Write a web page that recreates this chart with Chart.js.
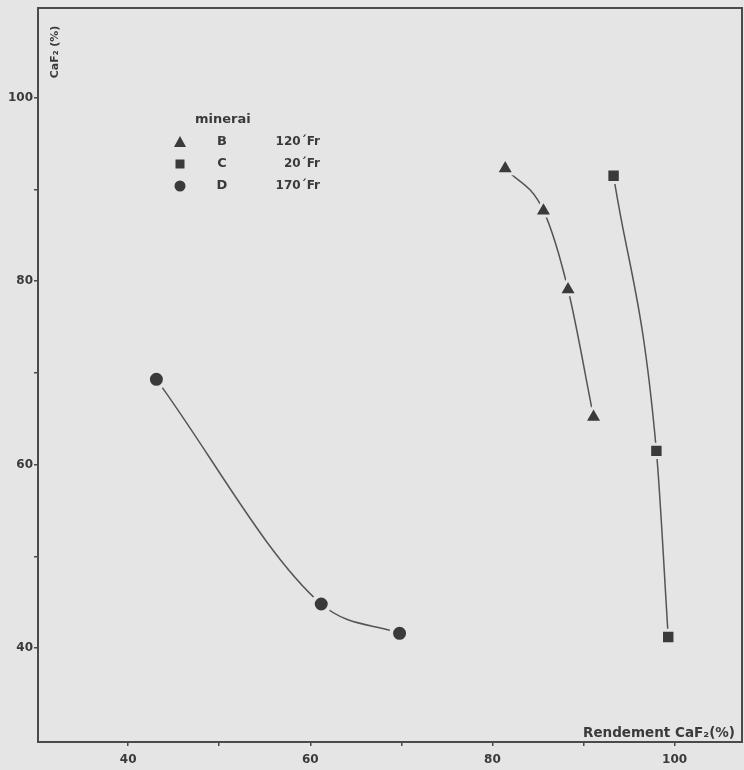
<!DOCTYPE html>
<html>
<head>
<meta charset="utf-8">
<script src="https://cdn.jsdelivr.net/npm/chart.js@4.4.1/dist/chart.umd.min.js"></script>
<style>
  html, body { margin: 0; padding: 0; background: #e5e5e5; }
  #wrap { width: 744px; height: 770px; position: relative; }
</style>
</head>
<body>
<div id="wrap"><canvas id="c"></canvas></div>
<script>
// ---- data ----
const seriesNames = ['B', 'C', 'D'];
const seriesPrices = ['120´Fr', '20´Fr', '170´Fr'];
const seriesShapes = ['triangle', 'rect', 'circle'];
const legendTitle = 'minerai';

const mineralB_x = [81.4, 85.6, 88.3, 91.1];
const mineralB_y = [92.3, 87.7, 79.1, 65.2];
const mineralC_x = [93.3, 98.0, 99.3];
const mineralC_y = [91.5, 61.5, 41.2];
const mineralD_x = [43.1, 61.2, 69.8];
const mineralD_y = [69.3, 44.8, 41.6];

const xTickValues = [40, 50, 60, 70, 80, 90, 100];
const xTickLabels = [40, 60, 80, 100];
const yTickValues = [40, 50, 60, 70, 80, 90, 100];
const yTickLabels = [40, 60, 80, 100];

const xTitle = 'Rendement CaF₂(%)';
const yTitle = 'CaF₂ (%)';

// ---- styling ----
const BG = '#e5e5e5';
const INK = '#3a3a3a';
const LINE = '#555555';

function pts(xs, ys) { return xs.map((x, i) => ({ x: x, y: ys[i] })); }

const seriesData = [pts(mineralB_x, mineralB_y), pts(mineralC_x, mineralC_y), pts(mineralD_x, mineralD_y)];
const markerRadius = [10.5, 9.5, 8.5];
const markerBorder = [3, 3, 4];

const datasets = seriesNames.map((n, i) => ({
  label: n,
  data: seriesData[i],
  showLine: true,
  borderColor: LINE,
  borderWidth: 1.5,
  tension: 0.4,
  cubicInterpolationMode: 'monotone',
  pointStyle: seriesShapes[i],
  pointRadius: markerRadius[i],
  pointHoverRadius: markerRadius[i],
  pointBackgroundColor: INK,
  pointBorderColor: BG,
  pointBorderWidth: markerBorder[i],
  fill: false
}));

const bgPlugin = {
  id: 'bg',
  beforeDraw(chart) {
    const ctx = chart.ctx;
    ctx.save();
    ctx.fillStyle = BG;
    ctx.fillRect(0, 0, chart.width, chart.height);
    ctx.restore();
  }
};

function drawMarker(ctx, shape, x, y) {
  ctx.fillStyle = INK;
  ctx.beginPath();
  if (shape === 'triangle') {
    ctx.moveTo(x, y - 6); ctx.lineTo(x + 6, y + 5); ctx.lineTo(x - 6, y + 5); ctx.closePath();
  } else if (shape === 'rect') {
    ctx.rect(x - 4.5, y - 4.5, 9, 9);
  } else {
    ctx.arc(x, y, 5.5, 0, Math.PI * 2);
  }
  ctx.fill();
}

const decoPlugin = {
  id: 'deco',
  afterDraw(chart) {
    const ctx = chart.ctx;
    const a = chart.chartArea;
    ctx.save();
    // frame
    ctx.strokeStyle = '#4a4a4a';
    ctx.lineWidth = 2;
    ctx.strokeRect(a.left, a.top, a.right - a.left, a.bottom - a.top);

    ctx.fillStyle = INK;
    // x title
    ctx.font = '600 13.5px "DejaVu Sans", sans-serif';
    ctx.textAlign = 'right';
    ctx.textBaseline = 'alphabetic';
    ctx.fillText(xTitle, a.right - 7, a.bottom - 5);
    // y title
    ctx.textBaseline = 'middle';
    ctx.save();
    ctx.translate(a.left + 17, a.top + 44);
    ctx.rotate(-Math.PI / 2);
    ctx.textAlign = 'center';
    ctx.font = '600 11px "DejaVu Sans", sans-serif';
    ctx.fillText(yTitle, 0, 0);
    ctx.restore();

    // legend
    ctx.font = '600 13px "DejaVu Sans", sans-serif';
    ctx.textAlign = 'left';
    ctx.fillText(legendTitle, 195, 120);
    const rowY = [142, 164, 186];
    seriesNames.forEach((n, i) => {
      drawMarker(ctx, seriesShapes[i], 180, rowY[i]);
      ctx.fillStyle = INK;
      ctx.font = '600 13px "DejaVu Sans", sans-serif';
      ctx.textAlign = 'center';
      ctx.fillText(n, 222, rowY[i]);
      ctx.font = '600 12px "DejaVu Sans", sans-serif';
      ctx.textAlign = 'right';
      ctx.fillText(seriesPrices[i], 320, rowY[i]);
    });
    ctx.restore();
  }
};

new Chart(document.getElementById('c'), {
  type: 'scatter',
  data: { datasets: datasets },
  options: {
    responsive: true,
    maintainAspectRatio: false,
    animation: false,
    events: [],
    layout: { autoPadding: false, padding: { top: 8, right: 2, left: 0, bottom: 0 } },
    plugins: { legend: { display: false }, tooltip: { enabled: false } },
    scales: {
      x: {
        type: 'linear',
        min: 30.1,
        max: 107.4,
        afterBuildTicks: s => { s.ticks = xTickValues.map(v => ({ value: v })); },
        afterFit: s => { s.height = 28; s.paddingLeft = 0; s.paddingRight = 0; },
        border: { display: false },
        grid: { drawOnChartArea: false, drawTicks: true, tickLength: 4, color: '#4a4a4a', lineWidth: 1.5 },
        ticks: {
          color: INK,
          padding: 7,
          maxRotation: 0,
          autoSkip: false,
          font: { family: '"DejaVu Sans", sans-serif', size: 12, weight: 'bold' },
          callback: v => xTickLabels.includes(v) ? String(v) : ''
        }
      },
      y: {
        type: 'linear',
        min: 29.75,
        max: 109.8,
        afterBuildTicks: s => { s.ticks = yTickValues.map(v => ({ value: v })); },
        afterFit: s => { s.width = 38; s.paddingTop = 0; s.paddingBottom = 0; },
        border: { display: false },
        grid: { drawOnChartArea: false, drawTicks: true, tickLength: 4, color: '#4a4a4a', lineWidth: 1.5 },
        ticks: {
          color: INK,
          padding: 1,
          autoSkip: false,
          font: { family: '"DejaVu Sans", sans-serif', size: 12, weight: 'bold' },
          callback: v => yTickLabels.includes(v) ? String(v) : ''
        }
      }
    }
  },
  plugins: [bgPlugin, decoPlugin]
});
</script>
</body>
</html>
